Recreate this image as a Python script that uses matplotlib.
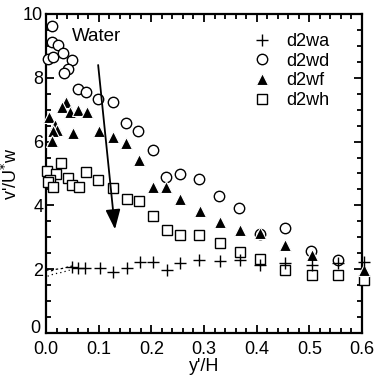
import matplotlib
matplotlib.use("Agg")
import matplotlib.pyplot as plt
import matplotlib.transforms as mtransforms
from matplotlib.ticker import MultipleLocator, FuncFormatter

plt.rcParams['font.family'] = ['Liberation Sans', 'DejaVu Sans']

# d2wa (plus)
wa_x = [0.049, 0.061, 0.074, 0.103, 0.127, 0.154, 0.178, 0.203, 0.23, 0.254,
        0.29, 0.33, 0.368, 0.406, 0.454, 0.505, 0.554, 0.604]
wa_y = [2.06, 2.04, 2.04, 2.04, 1.91, 2.04, 2.23, 2.23, 1.97, 2.19,
        2.29, 2.26, 2.29, 2.13, 2.19, 2.13, 2.19, 2.23]
# near-wall dotted traces
nw1_x = [0.0, 0.01, 0.02, 0.03, 0.04, 0.05]
nw1_y = [1.98, 1.95, 2.0, 2.02, 2.06, 2.1]
nw2_x = [0.003, 0.015, 0.03, 0.045]
nw2_y = [1.78, 1.85, 1.9, 1.97]

# d2wd (open circles)
wd_x = [0.011, 0.011, 0.023, 0.004, 0.013, 0.032, 0.049, 0.042, 0.034, 0.061,
        0.076, 0.099, 0.127, 0.152, 0.175, 0.203, 0.228, 0.254, 0.29, 0.328,
        0.366, 0.406, 0.454, 0.503, 0.554]
wd_y = [9.62, 9.12, 9.03, 8.59, 8.65, 8.78, 8.56, 8.28, 8.15, 7.65,
        7.55, 7.34, 7.24, 6.58, 6.33, 5.74, 4.9, 4.98, 4.83, 4.29,
        3.92, 3.1, 3.29, 2.57, 2.3]

# d2wf (filled triangles)
wf_x = [0.006, 0.038, 0.030, 0.046, 0.061, 0.078, 0.017, 0.021, 0.013, 0.011,
        0.051, 0.101, 0.127, 0.152, 0.177, 0.203, 0.228, 0.254, 0.292, 0.33,
        0.368, 0.406, 0.454, 0.505, 0.604]
wf_y = [6.77, 7.24, 7.08, 6.93, 6.99, 6.93, 6.52, 6.36, 6.33, 6.02,
        6.27, 6.33, 6.14, 5.96, 5.42, 4.58, 4.58, 4.2, 3.83, 3.48,
        3.23, 3.13, 2.76, 2.45, 1.98]

# d2wh (open squares)
wh_x = [0.028, 0.002, 0.019, 0.008, 0.004, 0.013, 0.042, 0.049, 0.063, 0.076,
        0.099, 0.127, 0.154, 0.177, 0.203, 0.23, 0.254, 0.29, 0.33, 0.368,
        0.406, 0.454, 0.505, 0.554, 0.604]
wh_y = [5.33, 5.08, 4.98, 4.8, 4.73, 4.58, 4.86, 4.64, 4.58, 5.05,
        4.8, 4.55, 4.2, 4.14, 3.67, 3.23, 3.07, 3.07, 2.82, 2.54,
        2.32, 1.97, 1.82, 1.82, 1.66]

# arrow (trend)
arrow_start = (0.099, 8.4)
arrow_end = (0.131, 3.25)

fig = plt.figure(figsize=(3.75, 3.82), dpi=100)
ax = fig.add_axes([0.1227, 0.1283, 0.8426, 0.8351])

ax.plot(wd_x, wd_y, linestyle='none', marker='o', markersize=7.5,
        markerfacecolor='white', markeredgecolor='black', markeredgewidth=1.0,
        label='d2wd', clip_on=False, zorder=3)
ax.plot(wh_x, wh_y, linestyle='none', marker='s', markersize=7.5,
        markerfacecolor='white', markeredgecolor='black', markeredgewidth=1.0,
        label='d2wh', clip_on=False, zorder=4)
ax.plot(wf_x, wf_y, linestyle='none', marker='^', markersize=8,
        markerfacecolor='black', markeredgecolor='white', markeredgewidth=0.8,
        label='d2wf', clip_on=False, zorder=5)
ax.plot(wa_x, wa_y, linestyle='none', marker='+', markersize=9,
        markeredgecolor='black', markeredgewidth=1.0,
        label='d2wa', clip_on=False, zorder=6)
ax.plot(nw1_x, nw1_y, color='black', linestyle=(0, (2, 2)), linewidth=0.9, zorder=6)
ax.plot(nw2_x, nw2_y, color='black', linestyle=(0, (1, 2.5)), linewidth=0.9, zorder=6)

ax.annotate('', xy=arrow_end, xytext=arrow_start,
            arrowprops=dict(arrowstyle='-|>,head_length=1.2,head_width=0.45',
                            color='black', lw=1.3, shrinkA=0, shrinkB=0), zorder=7)

ax.text(0.05, 9.3, 'Water', fontsize=13.5, va='center', ha='left')

ax.set_xlim(0, 0.6)
ax.set_ylim(0, 10)
ax.xaxis.set_major_locator(MultipleLocator(0.1))
ax.xaxis.set_minor_locator(MultipleLocator(0.02))
ax.yaxis.set_major_locator(MultipleLocator(2))
ax.yaxis.set_minor_locator(MultipleLocator(0.5))
ax.xaxis.set_major_formatter(FuncFormatter(lambda v, p: f'{v:.1f}'))
ax.yaxis.set_major_formatter(FuncFormatter(lambda v, p: '' if abs(v) < 1e-9 else f'{v:.0f}'))
ax.tick_params(which='both', direction='in', top=True, right=True,
               width=1.3, labelsize=13)
ax.tick_params(which='major', length=6)
ax.tick_params(which='minor', length=3.5)
ax.tick_params(axis='x', pad=6)
ax.tick_params(axis='y', pad=2)
for s in ax.spines.values():
    s.set_linewidth(1.6)

# y "0" label, nudged up slightly so it does not collide with "0.0"
ytrans = mtransforms.blended_transform_factory(ax.transAxes, ax.transData) + \
    mtransforms.ScaledTranslation(-4 / 72, 3.5 / 72, fig.dpi_scale_trans)
ax.text(0, 0, '0', fontsize=13, ha='right', va='center', transform=ytrans)

ax.set_xlabel("y'/H", fontsize=13, labelpad=0)
ax.set_ylabel("v'/U$^{*}$w", fontsize=13)
ax.yaxis.set_label_coords(-0.08, 0.5)

h, l = ax.get_legend_handles_labels()
order = [l.index(n) for n in ['d2wa', 'd2wd', 'd2wf', 'd2wh']]
leg = ax.legend([h[i] for i in order], [l[i] for i in order],
                loc='upper right', bbox_to_anchor=(0.936, 0.98), frameon=False,
                fontsize=13, handlelength=1.0, handletextpad=0.8,
                labelspacing=0.15, borderpad=0.2)

fig.savefig('out.png', dpi=100)
